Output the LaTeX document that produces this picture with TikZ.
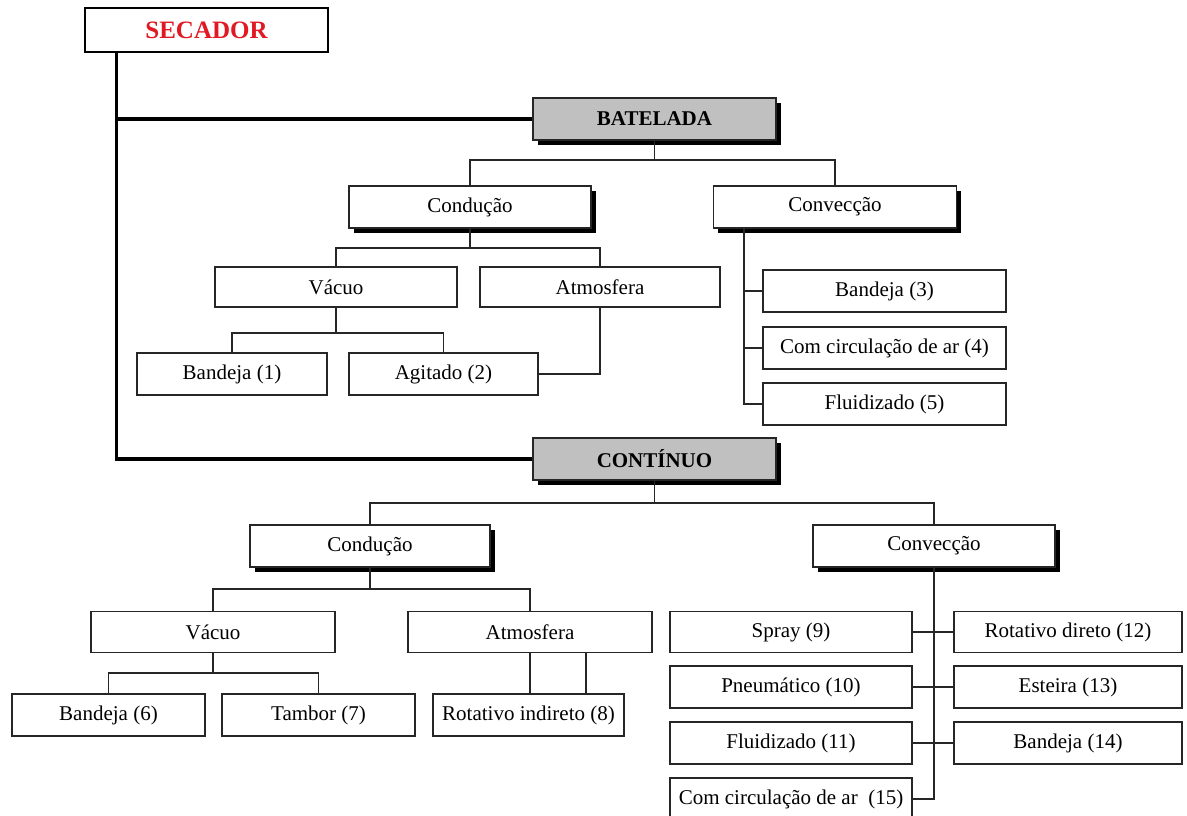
\documentclass[tikz,border=0pt]{standalone}
\usepackage{fontspec}
\setmainfont{Liberation Serif}
\usetikzlibrary{shadows,calc}
\definecolor{secred}{RGB}{225,25,35}
\definecolor{boxgray}{RGB}{192,192,192}
\tikzset{
  conn/.style={draw=black!85, line width=1.3pt},
  mainline/.style={draw=black, line width=3.2pt},
  plainbox/.style={draw=black!85, line width=1.3pt, fill=white, rectangle, inner sep=0pt,
     font=\fontsize{21}{25}\selectfont},
  shadowbox/.style={plainbox, drop shadow={shadow xshift=4.5pt, shadow yshift=-5pt, fill=black, opacity=1}},
  headbox/.style={shadowbox, fill=boxgray, font=\fontsize{21}{25}\selectfont\bfseries},
  rootbox/.style={draw=black, line width=2.6pt, fill=white, rectangle, inner sep=0pt,
     font=\fontsize{25}{30}\selectfont\bfseries, text=secred},
}
\begin{document}
\begin{tikzpicture}[x=1pt, y=-1pt]
\useasboundingbox (0,0) rectangle (1187,816);
% ---- nodes ----
\node[rootbox, minimum width=243pt, minimum height=44pt] (secador) at (206.5,30) {SECADOR};
\node[headbox, minimum width=243pt, minimum height=42pt] (batelada) at (654.5,119) {BATELADA};
\node[shadowbox, minimum width=242pt, minimum height=42pt] (cond1) at (470,207) {Condução};
\node[shadowbox, minimum width=243pt, minimum height=42pt] (conv1) at (835,207) {Convecção};
\node[plainbox, minimum width=242pt, minimum height=40pt] (vac1) at (336,287) {Vácuo};
\node[plainbox, minimum width=240pt, minimum height=40pt] (atm1) at (600,287) {Atmosfera};
\node[plainbox, minimum width=190pt, minimum height=42pt] (band1) at (232,374) {Bandeja (1)};
\node[plainbox, minimum width=189pt, minimum height=42pt] (agit2) at (443.5,374) {Agitado (2)};
\node[plainbox, minimum width=243pt, minimum height=42pt] (band3) at (884.5,291) {Bandeja (3)};
\node[plainbox, minimum width=243pt, minimum height=42pt] (circ4) at (884.5,348) {Com circulação de ar (4)};
\node[plainbox, minimum width=243pt, minimum height=42pt] (fluid5) at (884.5,404) {Fluidizado (5)};

\node[headbox, minimum width=243pt, minimum height=42pt] (continuo) at (654.5,459) {CONTÍNUO};
\node[shadowbox, minimum width=240pt, minimum height=42pt] (cond2) at (370,546) {Condução};
\node[shadowbox, minimum width=242pt, minimum height=42pt] (conv2) at (934,546) {Convecção};
\node[plainbox, minimum width=244pt, minimum height=41pt] (vac2) at (213,632) {Vácuo};
\node[plainbox, minimum width=244pt, minimum height=41pt] (atm2) at (530,632) {Atmosfera};
\node[plainbox, minimum width=193pt, minimum height=42pt] (band6) at (108.5,715) {Bandeja (6)};
\node[plainbox, minimum width=193pt, minimum height=42pt] (tambor7) at (318.5,715) {Tambor (7)};
\node[plainbox, minimum width=191pt, minimum height=42pt] (rot8) at (528.5,715) {Rotativo indireto (8)};

\node[plainbox, minimum width=242pt, minimum height=41pt] (spray9) at (791,632) {Spray (9)};
\node[plainbox, minimum width=242pt, minimum height=42pt] (pneu10) at (791,687) {Pneumático (10)};
\node[plainbox, minimum width=242pt, minimum height=42pt] (fluid11) at (791,743) {Fluidizado (11)};
\node[plainbox, minimum width=242pt, minimum height=42pt] (circ15) at (791,799) {Com circulação de ar\ \ (15)};
\node[plainbox, minimum width=228pt, minimum height=41pt] (rot12) at (1068,632) {Rotativo direto (12)};
\node[plainbox, minimum width=228pt, minimum height=42pt] (est13) at (1068,687) {Esteira (13)};
\node[plainbox, minimum width=228pt, minimum height=42pt] (band14) at (1068,743) {Bandeja (14)};

% ---- trunk from SECADOR ----
\coordinate (trunk) at ($(secador.south west)+(33,0)$);
\draw[mainline] (trunk) |- (continuo.west);
\draw[mainline] (trunk) |- (batelada.west);

% ---- BATELADA ----
\coordinate (bus1) at (0,160);
\draw[conn] (batelada.south) -- (batelada.south |- bus1);
\draw[conn] (cond1.north) -- (cond1.north |- bus1) -- (conv1.north |- bus1) -- (conv1.north);
\coordinate (bus2) at (0,248);
\draw[conn] (cond1.south) -- (cond1.south |- bus2);
\draw[conn] (vac1.north) -- (vac1.north |- bus2) -- (atm1.north |- bus2) -- (atm1.north);
\coordinate (bus3) at (0,333);
\draw[conn] (vac1.south) -- (vac1.south |- bus3);
\draw[conn] (band1.north) -- (band1.north |- bus3) -- (agit2.north |- bus3) -- (agit2.north);
\draw[conn] (atm1.south) |- (agit2.east);
\coordinate (cv1) at ($(conv1.south west)+(31,0)$);
\draw[conn] (cv1) |- (fluid5.west);
\draw[conn] (band3.west) -- (band3.west -| cv1);
\draw[conn] (circ4.west) -- (circ4.west -| cv1);

% ---- CONTINUO ----
\coordinate (bus4) at (0,503);
\draw[conn] (continuo.south) -- (continuo.south |- bus4);
\draw[conn] (cond2.north) -- (cond2.north |- bus4) -- (conv2.north |- bus4) -- (conv2.north);
\coordinate (bus5) at (0,589);
\draw[conn] (cond2.south) -- (cond2.south |- bus5);
\draw[conn] (vac2.north) -- (vac2.north |- bus5) -- (atm2.north |- bus5) -- (atm2.north);
\coordinate (bus6) at (0,673);
\draw[conn] (vac2.south) -- (vac2.south |- bus6);
\draw[conn] (band6.north) -- (band6.north |- bus6) -- (tambor7.north |- bus6) -- (tambor7.north);
\draw[conn] (atm2.south) -- (atm2.south |- rot8.north);
\coordinate (a2) at ($(atm2.south)+(56,0)$);
\draw[conn] (a2) -- (a2 |- rot8.north);
\draw[conn] (conv2.south) |- (circ15.east);
\draw[conn] (spray9.east) -- (rot12.west);
\draw[conn] (pneu10.east) -- (est13.west);
\draw[conn] (fluid11.east) -- (band14.west);
\end{tikzpicture}
\end{document}
